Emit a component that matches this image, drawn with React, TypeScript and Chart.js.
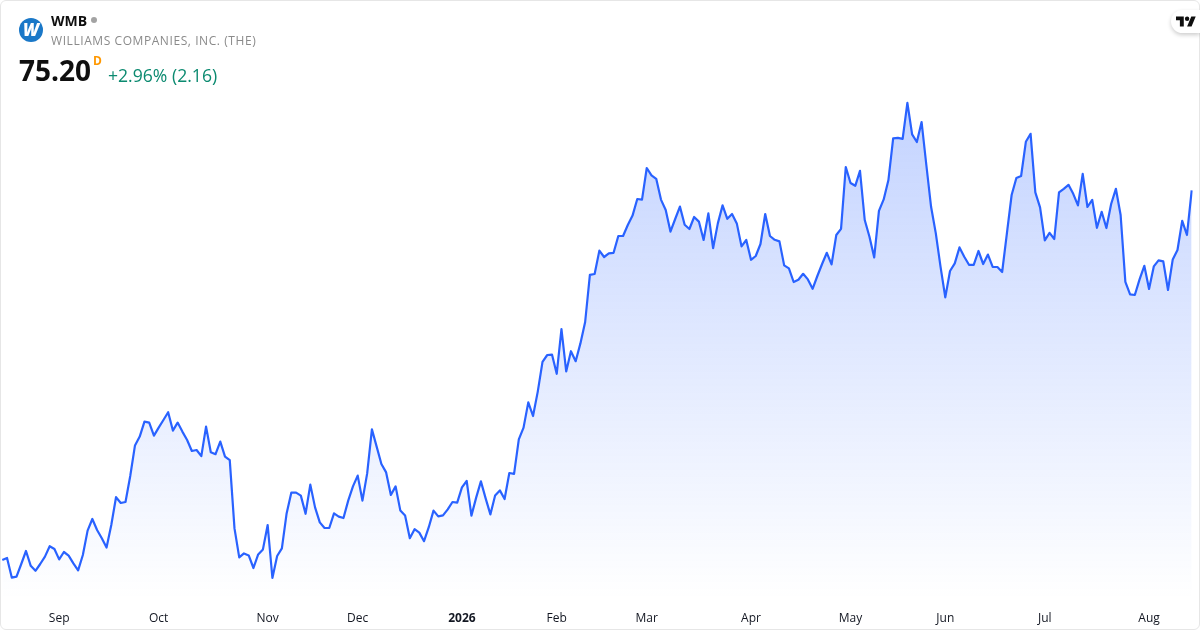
import React, { useEffect, useRef } from "react";
import { Chart, registerables } from "chart.js";

Chart.register(...registerables);

const closes: number[] = [
  56.72, 56.82, 55.84, 55.89, 56.52, 57.17, 56.43, 56.18, 56.52, 56.89, 57.41, 57.27, 56.75, 57.12, 56.94, 56.55,
  56.2, 56.97, 58.19, 58.77, 58.22, 57.81, 57.34, 58.47, 59.86, 59.57, 59.62, 60.92, 62.45, 62.89, 63.64, 63.59,
  62.94, 63.34, 63.72, 64.11, 63.19, 63.59, 63.14, 62.72, 62.17, 62.22, 61.91, 63.39, 62.11, 62.01, 62.64, 61.89,
  61.71, 58.3, 56.85, 57.05, 56.95, 56.32, 57.0, 57.25, 58.47, 55.82, 56.92, 57.3, 59.05, 60.09, 60.09, 59.94,
  59.03, 60.49, 59.35, 58.6, 58.32, 58.32, 59.05, 58.89, 58.82, 59.69, 60.4, 60.94, 59.69, 61.05, 63.25, 62.39,
  61.52, 61.1, 59.97, 60.4, 59.19, 58.94, 57.81, 58.26, 58.09, 57.66, 58.36, 59.19, 58.9, 58.95, 59.25, 59.62,
  59.59, 60.35, 60.67, 58.94, 59.84, 60.65, 59.8, 59.0, 59.95, 60.2, 59.77, 61.07, 61.03, 62.75, 63.34, 64.6,
  63.92, 65.14, 66.63, 66.97, 66.99, 66.03, 68.27, 66.15, 67.16, 66.66, 67.55, 68.62, 70.98, 71.02, 72.19, 71.87,
  72.05, 72.08, 72.92, 72.92, 73.47, 73.94, 74.77, 74.74, 76.32, 75.95, 75.78, 74.74, 74.22, 73.14, 73.77, 74.39,
  73.48, 73.27, 73.87, 73.64, 72.72, 74.05, 72.31, 73.55, 74.45, 73.78, 74.02, 73.55, 72.4, 72.72, 71.73, 71.92,
  72.52, 74.02, 72.92, 72.73, 72.65, 71.45, 71.3, 70.62, 70.73, 71.03, 70.75, 70.28, 70.92, 71.52, 72.08, 71.5,
  72.97, 73.28, 76.37, 75.57, 75.43, 76.18, 73.72, 72.88, 71.85, 74.18, 74.75, 75.72, 77.8, 77.83, 77.78, 79.58,
  78.0, 77.62, 78.62, 76.47, 74.38, 73.05, 71.38, 69.85, 71.17, 71.55, 72.35, 71.88, 71.48, 71.48, 72.17, 71.52,
  71.99, 71.38, 71.37, 71.12, 73.05, 74.97, 75.82, 75.92, 77.63, 78.03, 75.1, 74.35, 72.7, 73.08, 72.77, 75.1,
  75.28, 75.48, 75.03, 74.45, 76.03, 74.37, 74.73, 73.33, 74.13, 73.32, 74.52, 75.28, 73.97, 70.63, 70.0, 69.97,
  70.75, 71.43, 70.27, 71.4, 71.7, 71.65, 70.22, 71.75, 72.22, 73.68, 72.97, 75.2,
];

const monthLabels: string[] = ["Sep", "Oct", "Nov", "Dec", "2026", "Feb", "Mar", "Apr", "May", "Jun", "Jul", "Aug"];
const monthStartIndex: number[] = [12, 33, 56, 75, 97, 117, 136, 158, 179, 199, 220, 242];
const sessions: number[] = closes.map((_, i) => i);

const FONT = '"Open Sans", sans-serif';

export default function App() {
  const ref = useRef<HTMLCanvasElement | null>(null);

  useEffect(() => {
    const canvas = ref.current;
    if (!canvas) return;
    const ctx = canvas.getContext("2d")!;
    const grad = ctx.createLinearGradient(0, 102, 0, 600);
    grad.addColorStop(0, "rgba(41,98,255,0.28)");
    grad.addColorStop(1, "rgba(41,98,255,0)");

    const chart = new Chart(ctx, {
      type: "line",
      data: {
        labels: sessions,
        datasets: [
          {
            data: closes,
            borderColor: "#2962FF",
            borderWidth: 2.2,
            backgroundColor: grad,
            fill: "start",
            pointRadius: 0,
            tension: 0,
            borderJoinStyle: "round",
          },
        ],
      },
      options: {
        animation: false,
        responsive: false,
        layout: { padding: { left: 2.3, right: 8.3, top: 0, bottom: 0 } },
        plugins: { legend: { display: false }, tooltip: { enabled: false } },
        scales: {
          y: { display: false, min: 54.72, max: 84.72 },
          x: {
            type: "category",
            grid: { display: false },
            border: { display: false },
            afterBuildTicks: (scale: any) => {
              scale.ticks = monthStartIndex.map((value) => ({ value }));
            },
            afterFit: (scale: any) => {
              scale.height = 30;
            },
            ticks: {
              autoSkip: false,
              maxRotation: 0,
              padding: 3,
              color: "#131722",
              font: (c: any) => ({
                family: FONT,
                size: 12,
                weight: monthLabels[c.index] === "2026" ? "bold" : "normal",
              }),
              callback: (_v: any, i: number) => monthLabels[i],
            },
          },
        },
      },
    } as any);
    return () => chart.destroy();
  }, []);

  return (
    <div
      style={{
        position: "absolute",
        left: 0,
        top: 0,
        width: 1200,
        height: 630,
        background: "#fff",
        overflow: "hidden",
        fontFamily: FONT,
      }}
    >
      <canvas ref={ref} width={1200} height={630} style={{ position: "absolute", left: 0, top: 0, display: "block" }} />
      <div
        style={{
          position: "absolute",
          inset: 0,
          boxSizing: "border-box",
          border: "1px solid #e6e6e6",
          borderRadius: 6,
          pointerEvents: "none",
        }}
      />
      <div
        style={{
          position: "absolute",
          left: 19,
          top: 18,
          width: 24,
          height: 24,
          borderRadius: 12,
          background: "#1a78c8",
          color: "#fff",
          fontWeight: 800,
          fontStyle: "italic",
          fontSize: 17,
          lineHeight: "24px",
          textAlign: "center",
        }}
      >
        W
      </div>
      <div style={{ position: "absolute", left: 51, top: 11, fontSize: 14, lineHeight: "20px", fontWeight: 700, color: "#0f0f0f" }}>
        WMB
      </div>
      <div style={{ position: "absolute", left: 91, top: 17, width: 6, height: 6, borderRadius: 3, background: "#a3a3a3" }} />
      <div style={{ position: "absolute", left: 51, top: 32, fontSize: 12, lineHeight: "18px", color: "#8a8a8a", letterSpacing: 0.57, whiteSpace: "nowrap" }}>
        WILLIAMS COMPANIES, INC. (THE)
      </div>
      <div style={{ position: "absolute", left: 19, top: 51, fontSize: 28, lineHeight: "38px", fontWeight: 700, color: "#0f0f0f" }}>
        75.20
      </div>
      <div style={{ position: "absolute", left: 93, top: 53, fontSize: 12, lineHeight: "16px", fontWeight: 700, color: "#ff9800" }}>
        D
      </div>
      <div style={{ position: "absolute", left: 108, top: 63, fontSize: 17.6, lineHeight: "24px", color: "#0b8a70", whiteSpace: "nowrap" }}>
        +2.96% (2.16)
      </div>
      <div
        style={{
          position: "absolute",
          left: 1171,
          top: 10,
          width: 29,
          height: 23,
          background: "#fff",
          borderRadius: "12px 0 0 12px",
          boxShadow: "0 2px 4px rgba(0,0,0,0.2)",
        }}
      >
        <svg width="20" height="16" viewBox="0 0 36 28" style={{ position: "absolute", left: 5, top: 4 }}>
          <path d="M14 22H7V11H0V4h14v18zM28 22h-8l7.5-18h8L28 22z" fill="#0f0f0f" />
          <circle cx="20" cy="8" r="4" fill="#0f0f0f" />
        </svg>
      </div>
    </div>
  );
}
